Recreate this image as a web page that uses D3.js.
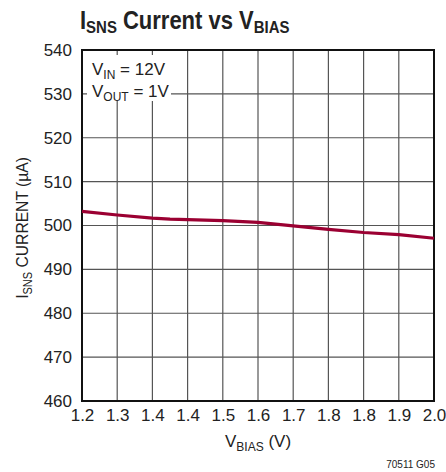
<!DOCTYPE html>
<html><head><meta charset="utf-8">
<script src="https://cdn.jsdelivr.net/npm/d3@7"></script>
<style>
body{margin:0;background:#fff;}
text{font-family:"Liberation Sans",Arial,sans-serif;fill:#222;}
.title{font-weight:bold;}
</style></head>
<body><svg id="c" width="446" height="472"></svg>
<script>
const vbias = [1.2, 1.28, 1.36, 1.4, 1.44, 1.52, 1.6, 1.68, 1.76, 1.84, 1.92, 2.0];
const isns  = [503.2, 502.4, 501.7, 501.45, 501.35, 501.1, 500.7, 499.9, 499.1, 498.4, 497.9, 497.1];
const xTickValues = [1.2, 1.28, 1.36, 1.44, 1.52, 1.6, 1.68, 1.76, 1.84, 1.92, 2.0];
const xTickLabels = ["1.2","1.3","1.4","1.4","1.5","1.6","1.7","1.8","1.8","1.9","2.0"];
const yTickValues = [460, 470, 480, 490, 500, 510, 520, 530, 540];

const svg = d3.select("#c");
const L = 82, R = 434, T = 50, B = 401;
const x = d3.scaleLinear().domain([1.2, 2.0]).range([L, R]);
const y = d3.scaleLinear().domain([460, 540]).range([B, T]);

// grid
const g = svg.append("g");
g.selectAll("line.v").data(xTickValues.slice(1, -1)).join("line")
  .attr("x1", d => x(d)).attr("x2", d => x(d)).attr("y1", T).attr("y2", B)
  .attr("stroke", "#555").attr("stroke-width", 1.2);
g.selectAll("line.h").data(yTickValues.slice(1, -1)).join("line")
  .attr("x1", L).attr("x2", R).attr("y1", d => y(d)).attr("y2", d => y(d))
  .attr("stroke", "#555").attr("stroke-width", 1.2);

// legend background
svg.append("rect").attr("x", 87).attr("y", 55).attr("width", 84).attr("height", 46).attr("fill", "#fff");
const lg = svg.append("g").attr("font-size", 17);
const t1 = lg.append("text").attr("x", 92).attr("y", 75);
t1.append("tspan").text("V");
t1.append("tspan").attr("font-size", 12).attr("dy", 4).text("IN");
t1.append("tspan").attr("dy", -4).text(" = 12V");
const t2 = lg.append("text").attr("x", 92).attr("y", 97);
t2.append("tspan").text("V");
t2.append("tspan").attr("font-size", 12).attr("dy", 4).text("OUT");
t2.append("tspan").attr("dy", -4).text(" = 1V");

// frame
svg.append("rect").attr("x", L).attr("y", T).attr("width", R - L).attr("height", B - T)
  .attr("fill", "none").attr("stroke", "#111").attr("stroke-width", 2);

// axes labels
const xa = svg.append("g").attr("transform", `translate(0,${B})`)
  .call(d3.axisBottom(x).tickValues(xTickValues).tickFormat((d, i) => xTickLabels[i]).tickSize(0).tickPadding(8));
xa.select(".domain").remove();
xa.selectAll("text").attr("font-size", 17).attr("fill", "#222").attr("font-family", "Liberation Sans, Arial, sans-serif");

const ya = svg.append("g").attr("transform", `translate(${L},0)`)
  .call(d3.axisLeft(y).tickValues(yTickValues).tickFormat(d3.format("d")).tickSize(0).tickPadding(10));
ya.select(".domain").remove();
ya.selectAll("text").attr("font-size", 17).attr("fill", "#222").attr("font-family", "Liberation Sans, Arial, sans-serif");

// data line
svg.append("path").datum(vbias.map((v, i) => [v, isns[i]]))
  .attr("d", d3.line().x(d => x(d[0])).y(d => y(d[1])))
  .attr("fill", "none").attr("stroke", "#9b0032").attr("stroke-width", 3.2).attr("stroke-linejoin", "round");

// title
const tt = svg.append("text").attr("class", "title").attr("transform", "translate(80,29) scale(0.88,1)").attr("font-size", 25);
tt.append("tspan").text("I");
tt.append("tspan").attr("font-size", 17).attr("dy", 4).text("SNS");
tt.append("tspan").attr("dy", -4).text(" Current vs V");
tt.append("tspan").attr("font-size", 17).attr("dy", 4).text("BIAS");

// x title
const xt = svg.append("text").attr("x", 258).attr("y", 447).attr("text-anchor", "middle").attr("font-size", 17);
xt.append("tspan").text("V");
xt.append("tspan").attr("font-size", 12).attr("dy", 4).text("BIAS");
xt.append("tspan").attr("dy", -4).text(" (V)");

// y title
const yt = svg.append("text").attr("transform", "translate(28,228) rotate(-90) scale(0.92,1)").attr("text-anchor", "middle").attr("font-size", 17);
yt.append("tspan").text("I");
yt.append("tspan").attr("font-size", 12).attr("dy", 4).text("SNS");
yt.append("tspan").attr("dy", -4).text(" CURRENT (µA)");

svg.append("text").attr("x", 435).attr("y", 468).attr("text-anchor", "end").attr("font-size", 10).text("70511 G05");
</script></body></html>
